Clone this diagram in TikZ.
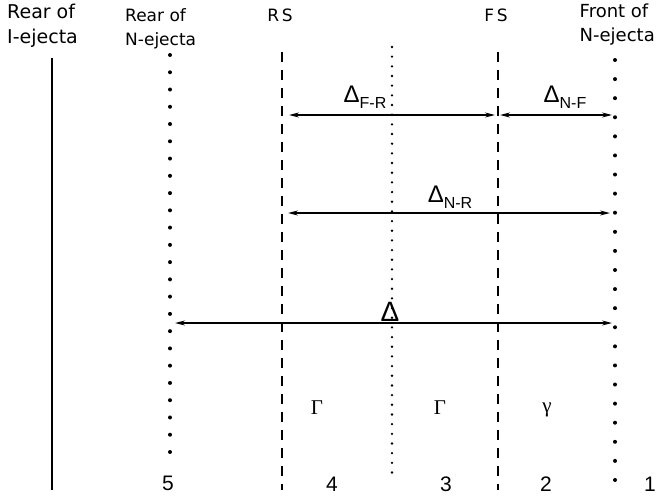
\documentclass[tikz,border=0pt]{standalone}
\usepackage{fontspec}
\setmainfont{Liberation Sans}
\newfontfamily\labelfont{DejaVu Sans}
\newfontfamily\greekserif{Liberation Serif}
\usetikzlibrary{arrows.meta,positioning}

\begin{document}
\begin{tikzpicture}[x=1pt, y=-1pt,
  bigdots/.style={line width=4pt, line cap=round, dash pattern=on 0pt off #1},
  finedots/.style={line width=2.6pt, line cap=round, dash pattern=on 0pt off 9.67pt},
  shockline/.style={line width=1.6pt, dash pattern=on 10pt off 8pt},
  gap/.style={{Stealth[length=10pt,width=5pt]}-{Stealth[length=10pt,width=5pt]}, line width=1.4pt},
  toplabel/.style={align=left, inner sep=0pt, font=\labelfont\fontsize{17}{24}\selectfont},
  deltalabel/.style={inner sep=0pt, font=\fontsize{24}{24}\selectfont},
  zonenum/.style={inner sep=0pt, font=\fontsize{21}{21}\selectfont},
  lorentz/.style={inner sep=0pt, font=\greekserif\fontsize{21}{21}\selectfont}]
\useasboundingbox (0,0) rectangle (657,498);
% top labels
\node[toplabel, anchor=north west, font=\labelfont\fontsize{19}{25}\selectfont] (rearI) at (7,4) {Rear of\\I-ejecta};
\node[toplabel, anchor=north west] (rearN) at (125,8) {Rear of\\N-ejecta};
\node[toplabel, anchor=north] (rs) at (280,9) {R\,S};
\node[toplabel, anchor=north] (fs) at (496,9) {F\,S};
\node[toplabel, anchor=north east, font=\labelfont\fontsize{18}{24}\selectfont] (frontN) at (655,4) {Front of\\N-ejecta};
% vertical lines
\coordinate (iTop) at (52,58);   \coordinate (iBot) at (52,490);
\coordinate (nTop) at (170,55);  \coordinate (nBot) at (170,452);
\coordinate (rsTop) at (282,52); \coordinate (rsBot) at (282,490);
\coordinate (cdTop) at (392,47); \coordinate (cdBot) at (392,480);
\coordinate (fsTop) at (498,52); \coordinate (fsBot) at (498,490);
\coordinate (fnTop) at (615,60); \coordinate (fnBot) at (615,480);
\draw[line width=1.8pt] (iTop) -- (iBot);
\draw[bigdots=17.26pt] (nTop) -- (nBot);
\draw[shockline] (rsTop) -- (rsBot);
\draw[finedots] (cdTop) -- (cdBot);
\draw[shockline] (fsTop) -- (fsBot);
\draw[bigdots=19.09pt] (fnTop) -- (fnBot);
% widths
\coordinate (fr1) at (289,115); \coordinate (fr2) at (495,115);
\coordinate (nf1) at (500,115); \coordinate (nf2) at (612,115);
\coordinate (nr1) at (288,213); \coordinate (nr2) at (610,213);
\coordinate (all1) at (175,323); \coordinate (all2) at (612,323);
\draw[gap] (fr1) -- (fr2);
\draw[gap] (nf1) -- (nf2);
\draw[gap] (nr1) -- (nr2);
\draw[gap] (all1) -- (all2);
\node[deltalabel] (dFR) at (365,97) {Δ\raisebox{-6pt}{\fontsize{16}{16}\selectfont F-R}};
\node[deltalabel] (dNF) at (565,97) {Δ\raisebox{-6pt}{\fontsize{16}{16}\selectfont N-F}};
\node[deltalabel] (dNR) at (450,197) {Δ\raisebox{-6pt}{\fontsize{16}{16}\selectfont N-R}};
\node[inner sep=0pt, font=\fontsize{28}{28}\selectfont] (dAll) at (390,312) {Δ};
% Lorentz factors
\node[lorentz] (g4) at (317,408) {Γ};
\node[lorentz] (g3) at (440,408) {Γ};
\node[lorentz] (g2) at (547,410) {γ};
% region numbers
\node[zonenum] (r5) at (168,483) {5};
\node[zonenum] (r4) at (332,484) {4};
\node[zonenum] (r3) at (446,484) {3};
\node[zonenum] (r2) at (546,484) {2};
\node[zonenum] (r1) at (650,484) {1};
\end{tikzpicture}
\end{document}
